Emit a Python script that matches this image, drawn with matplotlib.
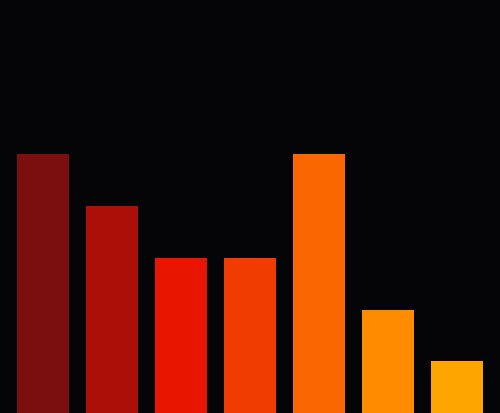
import matplotlib
matplotlib.use("Agg")
import matplotlib.pyplot as plt

categories = ["A", "B", "C", "D", "E", "F", "G"]
values = [5, 4, 3, 3, 5, 2, 1]
colors = ["#7b0e0f", "#ab0f07", "#e81500", "#f03c00", "#fa6600", "#ff8c00", "#ffa500"]

fig = plt.figure(figsize=(5.0, 4.14), dpi=100)
fig.patch.set_facecolor("#050507")
ax = fig.add_axes([0, 0, 1, 1])
ax.set_facecolor("#050507")
x = list(range(len(categories)))
ax.bar(x, values, width=52/69, color=colors, edgecolor="none")
ax.set_xlim(-43/69, (500-43)/69)
ax.set_ylim(0, 8)
ax.axis("off")
fig.savefig("out.png", dpi=100, facecolor=fig.get_facecolor())
